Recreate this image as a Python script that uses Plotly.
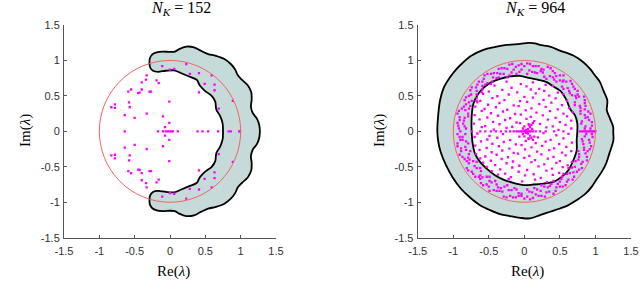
import plotly.graph_objects as go

# ---------------- data ----------------
TICK_VALS = [-1.5, -1, -0.5, 0, 0.5, 1, 1.5]
TICK_TEXT = ['-1.5', '-1', '-0.5', '0', '0.5', '1', '1.5']
PANEL_TITLES = ['<i>N</i><sub><i>K</i></sub> = 152', '<i>N</i><sub><i>K</i></sub> = 964']
X_LABEL = 'Re(<i>λ</i>)'
Y_LABEL = 'Im(<i>λ</i>)'

# Left panel: pseudospectrum boundary (closed curve)
left_bnd = [(-0.29, 0.96), (-0.285, 1.03), (-0.25, 1.085), (-0.19, 1.115), (-0.10, 1.125), (0.00, 1.12),
            (0.07, 1.125), (0.13, 1.16), (0.23, 1.195), (0.34, 1.185), (0.42, 1.145), (0.47, 1.12),
            (0.54, 1.09), (0.65, 1.065), (0.77, 1.02), (0.86, 0.95), (0.92, 0.875), (0.96, 0.79),
            (1.02, 0.725), (1.10, 0.65), (1.15, 0.55), (1.155, 0.44), (1.145, 0.35), (1.17, 0.26),
            (1.23, 0.18), (1.265, 0.08), (1.265, -0.08), (1.23, -0.18), (1.17, -0.26), (1.145, -0.35),
            (1.155, -0.44), (1.15, -0.55), (1.10, -0.65), (1.02, -0.725), (0.96, -0.79), (0.92, -0.875),
            (0.86, -0.95), (0.77, -1.02), (0.65, -1.065), (0.54, -1.09), (0.47, -1.12), (0.42, -1.145),
            (0.34, -1.185), (0.23, -1.195), (0.13, -1.16), (0.07, -1.125), (0.00, -1.12), (-0.10, -1.125),
            (-0.19, -1.115), (-0.25, -1.085), (-0.285, -1.03), (-0.29, -0.96), (-0.28, -0.90),
            (-0.24, -0.855), (-0.17, -0.84), (-0.06, -0.855), (0.06, -0.86), (0.16, -0.82), (0.28, -0.77),
            (0.38, -0.725), (0.42, -0.65), (0.49, -0.575), (0.59, -0.50), (0.64, -0.42), (0.655, -0.31),
            (0.71, -0.215), (0.745, -0.11), (0.75, 0.0), (0.745, 0.11), (0.71, 0.215), (0.655, 0.31),
            (0.64, 0.42), (0.59, 0.50), (0.49, 0.575), (0.42, 0.65), (0.38, 0.725), (0.28, 0.77),
            (0.16, 0.82), (0.06, 0.86), (-0.06, 0.855), (-0.17, 0.84), (-0.24, 0.855), (-0.28, 0.90),
            (-0.29, 0.96)]

# Left panel eigenvalues (N_K = 152)
eig152_upper = [(-0.11, 0.92), (0.00, 0.87), (0.06, 0.88), (0.23, 0.95), (0.28, 0.81), (0.41, 0.82),
                (0.59, 0.79), (0.49, 0.67), (0.63, 0.66), (0.63, 0.58), (0.41, 0.55), (0.89, 0.43),
                (0.69, 0.32), (-0.33, 0.79), (-0.34, 0.73), (-0.19, 0.72), (-0.16, 0.68), (-0.40, 0.69),
                (-0.40, 0.59), (-0.45, 0.54), (-0.43, 0.545), (-0.27, 0.56), (-0.29, 0.56), (-0.55, 0.59),
                (-0.59, 0.56), (-0.58, 0.41), (-0.57, 0.34), (-0.78, 0.38), (-0.78, 0.33), (-0.83, 0.34),
                (-0.64, 0.23), (-0.50, 0.19), (-0.33, 0.25), (-0.01, 0.42), (-0.10, 0.21), (-0.01, 0.12),
                (-0.07, 0.06)]
eig152_lower = [(-0.11, -0.92), (0.00, -0.87), (0.06, -0.88), (0.23, -0.95), (0.28, -0.81), (0.41, -0.82),
                (0.59, -0.79), (0.49, -0.67), (0.63, -0.66), (0.63, -0.58), (0.41, -0.55), (0.89, -0.43),
                (0.69, -0.32), (-0.33, -0.79), (-0.34, -0.73), (-0.19, -0.72), (-0.16, -0.68), (-0.40, -0.69),
                (-0.40, -0.59), (-0.45, -0.54), (-0.43, -0.545), (-0.27, -0.56), (-0.29, -0.56), (-0.55, -0.59),
                (-0.59, -0.56), (-0.58, -0.41), (-0.57, -0.34), (-0.78, -0.38), (-0.78, -0.33), (-0.83, -0.34),
                (-0.64, -0.23), (-0.50, -0.19), (-0.33, -0.25), (-0.01, -0.42), (-0.10, -0.21), (-0.01, -0.12),
                (-0.07, -0.06)]
eig152_real = [-0.64, -0.17, -0.10, -0.06, -0.03, 0.00, 0.02, 0.04, 0.11, 0.39, 0.46, 0.54, 0.68,
               0.83, 0.86, 0.98, 0.99]

# Right panel: outer and inner pseudospectrum boundaries
right_outer = [(1.25, 0.0), (1.25, 0.06), (1.205, 0.18), (1.16, 0.295), (1.167, 0.436), (1.111, 0.577),
               (1.064, 0.694), (0.994, 0.788), (0.924, 0.881), (0.83, 0.975), (0.689, 1.069), (0.502, 1.139),
               (0.361, 1.195), (0.22, 1.219), (0.15, 1.242), (0.056, 1.247), (-0.061, 1.233), (-0.248, 1.219),
               (-0.436, 1.186), (-0.577, 1.149), (-0.741, 1.069), (-0.858, 0.975), (-0.952, 0.881),
               (-1.045, 0.764), (-1.13, 0.624), (-1.186, 0.436), (-1.21, 0.248), (-1.224, 0.0),
               (-1.21, -0.15), (-1.177, -0.291), (-1.102, -0.478), (-1.008, -0.652), (-0.895, -0.806),
               (-0.764, -0.933), (-0.624, -1.041), (-0.483, -1.111), (-0.342, -1.167), (-0.202, -1.195),
               (-0.061, -1.219), (0.08, -1.228), (0.22, -1.181), (0.361, -1.134), (0.502, -1.088),
               (0.619, -1.041), (0.736, -0.97), (0.853, -0.886), (0.947, -0.783), (1.008, -0.689),
               (1.088, -0.572), (1.149, -0.455), (1.195, -0.314), (1.252, -0.127), (1.25, 0.0)]
right_inner = [(0.745, 0.0), (0.745, 0.108), (0.713, 0.225), (0.642, 0.319), (0.595, 0.436), (0.511, 0.567),
               (0.408, 0.633), (0.314, 0.694), (0.197, 0.727), (0.08, 0.75), (-0.061, 0.783), (-0.202, 0.774),
               (-0.342, 0.741), (-0.459, 0.694), (-0.553, 0.633), (-0.647, 0.53), (-0.717, 0.389),
               (-0.741, 0.202), (-0.741, 0.0), (-0.727, -0.173), (-0.694, -0.314), (-0.624, -0.431),
               (-0.53, -0.525), (-0.413, -0.619), (-0.295, -0.68), (-0.155, -0.727), (-0.005, -0.759),
               (0.127, -0.75), (0.267, -0.736), (0.408, -0.713), (0.525, -0.642), (0.619, -0.549),
               (0.689, -0.408), (0.736, -0.267), (0.736, -0.127), (0.745, 0.0)]

# Right panel eigenvalues (N_K = 964): ring band near the unit circle
eig964_ring = [
    (0.95, 0.08), (0.91, 0.16), (0.93, 0.25), (0.85, 0.31), (0.85, 0.40), (0.84, 0.49), (0.75, 0.52),
    (0.71, 0.60), (0.67, 0.67), (0.59, 0.70), (0.55, 0.79), (0.45, 0.78), (0.40, 0.85), (0.33, 0.91),
    (0.24, 0.88), (0.16, 0.92), (0.08, 0.95), (0.00, 0.92),
    (0.85, 0.04), (0.80, 0.11), (0.86, 0.19), (0.79, 0.25), (0.79, 0.33), (0.71, 0.37), (0.73, 0.47),
    (0.67, 0.51), (0.63, 0.57), (0.55, 0.60), (0.54, 0.70), (0.45, 0.70), (0.40, 0.76), (0.31, 0.74),
    (0.26, 0.83), (0.18, 0.82), (0.11, 0.84), (0.04, 0.81),
    (0.93, 0.04), (0.95, 0.13), (0.89, 0.20), (0.90, 0.28), (0.86, 0.36), (0.85, 0.44), (0.77, 0.49),
    (0.75, 0.57), (0.69, 0.63), (0.65, 0.71), (0.55, 0.72), (0.50, 0.79), (0.43, 0.82), (0.37, 0.89),
    (0.27, 0.87), (0.20, 0.92), (0.12, 0.92), (0.04, 0.96),
    (0.86, 0.07), (0.81, 0.14), (0.85, 0.23), (0.79, 0.29), (0.78, 0.36), (0.71, 0.41), (0.72, 0.50),
    (0.64, 0.54), (0.61, 0.61), (0.53, 0.63), (0.50, 0.72), (0.42, 0.73), (0.36, 0.78), (0.28, 0.77),
    (0.23, 0.85), (0.15, 0.83), (0.07, 0.86),
    (-0.08, 0.93), (-0.17, 0.95), (-0.24, 0.88), (-0.32, 0.89), (-0.38, 0.82), (-0.47, 0.81), (-0.56, 0.79),
    (-0.59, 0.70), (-0.66, 0.66), (-0.74, 0.62), (-0.75, 0.52), (-0.82, 0.48), (-0.82, 0.38), (-0.88, 0.32),
    (-0.94, 0.25), (-0.91, 0.16), (-0.93, 0.08),
    (-0.04, 0.87), (-0.11, 0.81), (-0.18, 0.83), (-0.24, 0.76), (-0.34, 0.81), (-0.39, 0.75), (-0.45, 0.70),
    (-0.52, 0.68), (-0.59, 0.64), (-0.60, 0.55), (-0.67, 0.52), (-0.67, 0.43), (-0.78, 0.41), (-0.78, 0.32),
    (-0.79, 0.25), (-0.84, 0.19), (-0.86, 0.11), (-0.82, 0.04),
    (-0.04, 0.95), (-0.12, 0.91), (-0.21, 0.94), (-0.28, 0.89), (-0.36, 0.88), (-0.43, 0.82), (-0.52, 0.81),
    (-0.57, 0.74), (-0.64, 0.70), (-0.68, 0.62), (-0.76, 0.58), (-0.78, 0.50), (-0.84, 0.44), (-0.85, 0.35),
    (-0.92, 0.29), (-0.91, 0.20), (-0.94, 0.12), (-0.92, 0.04),
    (-0.07, 0.84), (-0.15, 0.87), (-0.21, 0.79), (-0.29, 0.81), (-0.36, 0.76), (-0.44, 0.76), (-0.47, 0.67),
    (-0.55, 0.66), (-0.59, 0.59), (-0.67, 0.57), (-0.67, 0.47), (-0.74, 0.43), (-0.76, 0.36), (-0.83, 0.30),
    (-0.79, 0.21), (-0.85, 0.15), (-0.84, 0.07),
    (-0.91, -0.08), (-0.94, -0.17), (-0.89, -0.24), (-0.91, -0.33), (-0.84, -0.39), (-0.78, -0.45),
    (-0.79, -0.55), (-0.72, -0.60), (-0.64, -0.64), (-0.61, -0.73), (-0.53, -0.75), (-0.49, -0.84),
    (-0.39, -0.84), (-0.31, -0.85), (-0.25, -0.93), (-0.16, -0.93), (-0.08, -0.91), (0.00, -0.95),
    (-0.83, -0.04), (-0.87, -0.12), (-0.79, -0.17), (-0.82, -0.26), (-0.78, -0.32), (-0.77, -0.40),
    (-0.67, -0.43), (-0.67, -0.52), (-0.61, -0.56), (-0.59, -0.65), (-0.49, -0.64), (-0.46, -0.72),
    (-0.39, -0.75), (-0.33, -0.80), (-0.24, -0.76), (-0.18, -0.83), (-0.11, -0.82), (-0.04, -0.88),
    (-0.94, -0.04), (-0.90, -0.12), (-0.94, -0.21), (-0.89, -0.28), (-0.87, -0.36), (-0.81, -0.42),
    (-0.81, -0.52), (-0.74, -0.57), (-0.69, -0.64), (-0.62, -0.67), (-0.58, -0.76), (-0.50, -0.78),
    (-0.43, -0.83), (-0.35, -0.84), (-0.29, -0.92), (-0.20, -0.91), (-0.12, -0.93), (-0.04, -0.91),
    (-0.87, -0.08), (-0.82, -0.14), (-0.83, -0.22), (-0.76, -0.28), (-0.79, -0.37), (-0.72, -0.42),
    (-0.70, -0.49), (-0.62, -0.52), (-0.62, -0.62), (-0.53, -0.64), (-0.49, -0.70), (-0.41, -0.70),
    (-0.37, -0.79), (-0.28, -0.78), (-0.22, -0.83), (-0.14, -0.80), (-0.08, -0.87),
    (0.08, -0.96), (0.16, -0.89), (0.24, -0.91), (0.31, -0.86), (0.41, -0.88), (0.45, -0.79), (0.54, -0.78),
    (0.60, -0.71), (0.68, -0.68), (0.69, -0.58), (0.77, -0.54), (0.80, -0.46), (0.88, -0.41), (0.86, -0.31),
    (0.92, -0.25), (0.92, -0.16), (0.96, -0.08),
    (0.04, -0.82), (0.11, -0.86), (0.18, -0.82), (0.24, -0.76), (0.33, -0.79), (0.38, -0.74), (0.47, -0.74),
    (0.52, -0.67), (0.55, -0.60), (0.64, -0.59), (0.67, -0.51), (0.67, -0.43), (0.76, -0.40), (0.77, -0.32),
    (0.84, -0.26), (0.83, -0.18), (0.81, -0.11), (0.87, -0.04),
    (0.04, -0.92), (0.12, -0.94), (0.20, -0.91), (0.29, -0.92), (0.35, -0.85), (0.44, -0.84), (0.50, -0.78),
    (0.58, -0.76), (0.62, -0.68), (0.70, -0.64), (0.74, -0.57), (0.81, -0.52), (0.82, -0.43), (0.88, -0.36),
    (0.89, -0.28), (0.94, -0.21), (0.91, -0.12), (0.95, -0.04),
    (0.07, -0.85), (0.14, -0.80), (0.23, -0.84), (0.28, -0.78), (0.36, -0.77), (0.41, -0.70), (0.50, -0.71),
    (0.53, -0.64), (0.60, -0.60), (0.62, -0.52), (0.71, -0.50), (0.72, -0.42), (0.77, -0.36), (0.76, -0.28),
    (0.84, -0.23), (0.82, -0.14), (0.85, -0.07),
]

# Right panel eigenvalues: scattered interior cloud
eig964_inner = [
    (-0.25, 0.70), (-0.05, 0.665), (0.12, 0.69), (0.30, 0.655),
    (-0.42, 0.645), (-0.18, 0.615), (0.03, 0.635), (0.21, 0.60), (0.40, 0.64),
    (-0.50, 0.56), (-0.31, 0.585), (-0.10, 0.55), (0.09, 0.59), (0.28, 0.57), (0.47, 0.545),
    (-0.58, 0.53), (-0.38, 0.495), (-0.22, 0.52), (0.00, 0.485), (0.16, 0.535), (0.35, 0.505), (0.55, 0.525),
    (-0.62, 0.43), (-0.45, 0.47), (-0.28, 0.44), (-0.06, 0.425), (0.12, 0.475), (0.27, 0.445), (0.44, 0.465),
    (0.60, 0.43),
    (-0.66, 0.41), (-0.51, 0.375), (-0.35, 0.40), (-0.15, 0.365), (0.04, 0.415), (0.21, 0.385), (0.38, 0.405),
    (0.53, 0.37),
    (-0.69, 0.35), (-0.56, 0.315), (-0.40, 0.34), (-0.24, 0.305), (-0.08, 0.355), (0.10, 0.325), (0.30, 0.345),
    (0.47, 0.31), (0.63, 0.33),
    (-0.60, 0.29), (-0.47, 0.255), (-0.30, 0.28), (-0.13, 0.245), (0.02, 0.295), (0.17, 0.265), (0.36, 0.285),
    (0.55, 0.25), (0.68, 0.27),
    (-0.70, 0.23), (-0.52, 0.195), (-0.37, 0.22), (-0.20, 0.185), (-0.05, 0.235), (0.09, 0.205), (0.26, 0.225),
    (0.44, 0.19), (0.60, 0.21),
    (-0.63, 0.17), (-0.44, 0.135), (-0.27, 0.16), (-0.11, 0.125), (0.03, 0.175), (0.14, 0.145), (0.33, 0.165),
    (0.50, 0.13), (0.66, 0.15),
    (-0.71, 0.11), (-0.55, 0.075), (-0.35, 0.10), (-0.17, 0.065), (-0.06, 0.115), (0.07, 0.085), (0.22, 0.105),
    (0.40, 0.07), (0.58, 0.09),
    (-0.60, 0.06), (-0.43, 0.025), (-0.25, 0.05), (0.11, 0.035), (0.31, 0.055), (0.48, 0.02), (0.66, 0.04),
    (-0.66, -0.03), (-0.49, -0.065), (-0.30, -0.04), (0.14, -0.075), (0.27, -0.025), (0.45, -0.055),
    (0.62, -0.035),
    (-0.70, -0.08), (-0.52, -0.115), (-0.38, -0.09), (-0.20, -0.125), (-0.07, -0.075), (0.06, -0.105),
    (0.19, -0.085), (0.37, -0.12), (0.55, -0.10),
    (-0.61, -0.14), (-0.45, -0.175), (-0.29, -0.15), (-0.12, -0.185), (0.02, -0.135), (0.16, -0.165),
    (0.30, -0.145), (0.49, -0.18), (0.67, -0.16),
    (-0.69, -0.20), (-0.53, -0.235), (-0.36, -0.21), (-0.21, -0.245), (-0.04, -0.195), (0.10, -0.225),
    (0.25, -0.205), (0.42, -0.24), (0.59, -0.22),
    (-0.63, -0.26), (-0.46, -0.295), (-0.31, -0.27), (-0.15, -0.305), (0.01, -0.255), (0.18, -0.285),
    (0.35, -0.265), (0.53, -0.30), (0.66, -0.28),
    (-0.68, -0.32), (-0.55, -0.355), (-0.39, -0.33), (-0.23, -0.365), (-0.09, -0.315), (0.07, -0.345),
    (0.24, -0.325), (0.41, -0.36), (0.58, -0.34),
    (-0.62, -0.38), (-0.47, -0.415), (-0.32, -0.39), (-0.16, -0.425), (0.00, -0.375), (0.15, -0.405),
    (0.33, -0.385), (0.50, -0.42),
    (-0.58, -0.44), (-0.41, -0.475), (-0.25, -0.45), (-0.07, -0.485), (0.10, -0.435), (0.28, -0.465),
    (0.45, -0.445), (0.61, -0.48),
    (-0.53, -0.50), (-0.34, -0.535), (-0.17, -0.51), (0.04, -0.545), (0.20, -0.495), (0.39, -0.525),
    (0.54, -0.505),
    (-0.46, -0.56), (-0.27, -0.595), (-0.08, -0.57), (0.13, -0.605), (0.31, -0.555), (0.49, -0.585),
    (-0.37, -0.61), (-0.19, -0.645), (0.01, -0.62), (0.23, -0.655), (0.40, -0.615),
    (-0.22, -0.67), (-0.03, -0.705), (0.15, -0.68), (0.32, -0.715),
]

# Right panel eigenvalues: cluster near the origin
eig964_cluster = [(0.05, 0.03), (0.05, -0.03), (0.08, 0.06), (0.08, -0.06), (0.10, 0.09), (0.10, -0.09),
                  (0.02, 0.02), (0.02, -0.02), (-0.02, 0.04), (-0.02, -0.04), (0.12, 0.12), (0.12, -0.12),
                  (0.06, 0.10), (0.06, -0.10), (0.00, 0.07), (0.00, -0.07)]

# Right panel eigenvalues on the real axis
eig964_real = [-0.90, -0.74, -0.62, -0.55, -0.47, -0.40, -0.33, -0.26, -0.20, -0.15, -0.11, -0.08,
               -0.05, -0.03, -0.01, 0.01, 0.03, 0.05, 0.07, 0.09, 0.12, 0.16, 0.22, 0.30, 0.42, 0.55,
               0.78, 0.81, 0.84, 0.86, 0.88, 0.90, 0.92, 0.94, 0.96, 0.98, 1.00]

# ---------------- styling ----------------
SHADE = '#c6dada'
EDGE = 'black'
RED = '#f26464'
MAG = '#ff00ff'
AXIS_COL = '#555555'
SERIF = 'Liberation Serif, DejaVu Serif, serif'
SANS = 'Liberation Sans, Arial, sans-serif'

W, H = 640, 291
X_DOMAINS = [[64 / W, 276 / W], [417.7 / W, 631 / W]]
Y_DOMAIN = [1 - 237.7 / H, 1 - 25 / H]


def xs(pts):
    return [p[0] for p in pts]


def ys(pts):
    return [p[1] for p in pts]


fig = go.Figure()


def add_boundary(pts, fillcolor, xa, ya):
    fig.add_trace(go.Scatter(x=xs(pts), y=ys(pts), mode='lines', fill='toself', fillcolor=fillcolor,
                             line=dict(color=EDGE, width=1.8, shape='spline', smoothing=0.9),
                             xaxis=xa, yaxis=ya, hoverinfo='skip', showlegend=False))


def add_points(px, py, xa, ya):
    fig.add_trace(go.Scatter(x=px, y=py, mode='markers',
                             marker=dict(color=MAG, size=2.3, symbol='square', line=dict(width=0)),
                             xaxis=xa, yaxis=ya, hoverinfo='skip', showlegend=False))


# left panel
add_boundary(left_bnd, SHADE, 'x', 'y')
lx = xs(eig152_upper) + xs(eig152_lower) + eig152_real
ly = ys(eig152_upper) + ys(eig152_lower) + [0.0] * len(eig152_real)
add_points(lx, ly, 'x', 'y')

# right panel
add_boundary(right_outer, SHADE, 'x2', 'y2')
add_boundary(right_inner, 'white', 'x2', 'y2')
rx = xs(eig964_ring) + xs(eig964_inner) + xs(eig964_cluster) + eig964_real
ry = ys(eig964_ring) + ys(eig964_inner) + ys(eig964_cluster) + [0.0] * len(eig964_real)
add_points(rx, ry, 'x2', 'y2')

# unit circles
shapes = []
for xr, yr in (('x', 'y'), ('x2', 'y2')):
    shapes.append(dict(type='circle', xref=xr, yref=yr, x0=-1, y0=-1, x1=1, y1=1,
                       line=dict(color=RED, width=1), layer='above'))


def axis(domain, anchor, standoff):
    return dict(domain=domain, anchor=anchor, range=[-1.5, 1.5], tickvals=TICK_VALS, ticktext=TICK_TEXT,
                showgrid=False, zeroline=False, showline=True, linecolor=AXIS_COL, linewidth=1,
                ticks='inside', ticklen=3, tickcolor=AXIS_COL, tickwidth=1, automargin=False,
                ticklabelstandoff=standoff, fixedrange=True,
                tickfont=dict(family=SANS, size=11, color='#303030'))


annotations = []
title_x = [181, 535]
xlab_x = [173.5, 527]
ylab_x = [25, 379]
for i in range(2):
    annotations.append(dict(text=PANEL_TITLES[i], x=title_x[i] / W, y=1 - 8 / H, xref='paper', yref='paper',
                            showarrow=False, xanchor='center', yanchor='middle',
                            font=dict(family=SERIF, size=16, color='black')))
    annotations.append(dict(text=X_LABEL, x=xlab_x[i] / W, y=1 - 271.7 / H, xref='paper', yref='paper',
                            showarrow=False, xanchor='center', yanchor='middle',
                            font=dict(family=SERIF, size=15, color='black')))
    annotations.append(dict(text=Y_LABEL, x=ylab_x[i] / W, y=1 - 131 / H, xref='paper', yref='paper',
                            showarrow=False, xanchor='center', yanchor='middle', textangle=-90,
                            font=dict(family=SERIF, size=15, color='black')))

fig.update_layout(
    template='none',
    width=W, height=H, margin=dict(l=0, r=0, t=0, b=0, pad=0, autoexpand=False),
    paper_bgcolor='white', plot_bgcolor='white',
    xaxis=axis(X_DOMAINS[0], 'y', 3), yaxis=axis(Y_DOMAIN, 'x', 1),
    xaxis2=axis(X_DOMAINS[1], 'y2', 3), yaxis2=axis(Y_DOMAIN, 'x2', 1),
    shapes=shapes, annotations=annotations, showlegend=False, hovermode=False,
)

fig.write_html('out.html', config={'displayModeBar': False, 'staticPlot': True},
               post_script="document.body.style.margin='0px';document.body.style.overflow='hidden';")
